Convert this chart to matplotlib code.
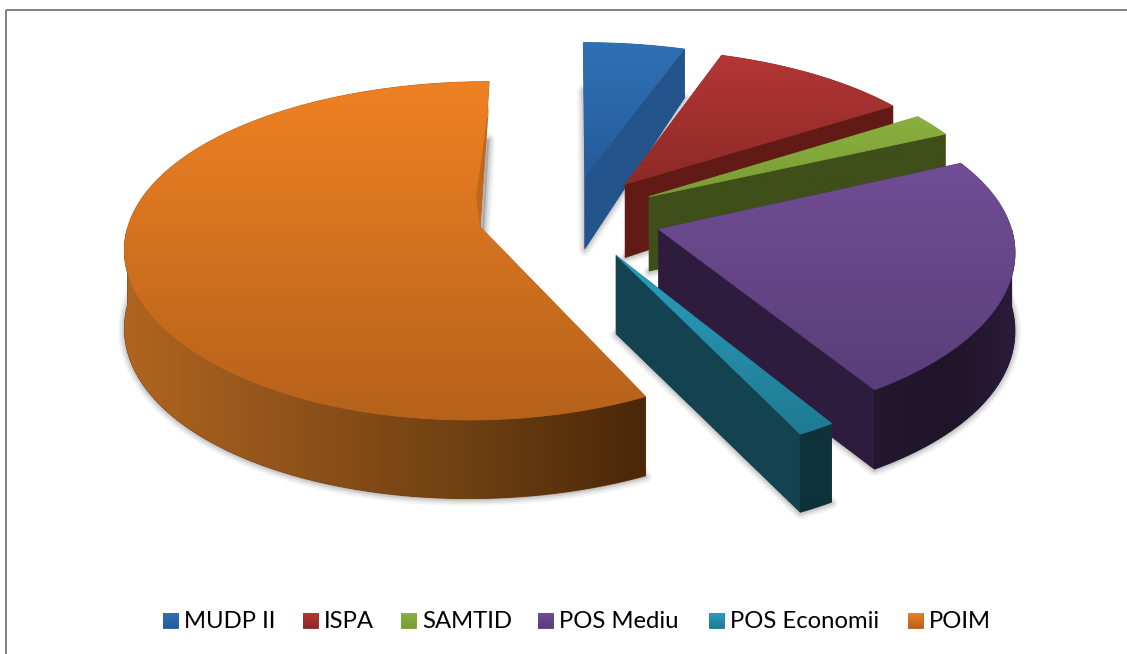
import numpy as np
import matplotlib
matplotlib.use('Agg')
import matplotlib.pyplot as plt
from matplotlib.colors import LinearSegmentedColormap
from matplotlib.patches import Polygon, Rectangle

#Data (share of each programme, %)
labels = ['MUDP II', 'ISPA', 'SAMTID', 'POS Mediu', 'POS Economii', 'POIM']
values = [5.3, 10.5, 2.3, 23.0, 1.5, 57.4]

#Colours: top face (back, front), radial wall, outer wall (left to right)
top_colors = [('#3070B6', '#255C9A'), ('#B43636', '#8C2A26'), ('#8AB03E', '#7A9C36'),
              ('#714D95', '#593D79'), ('#2B9EBE', '#1F7A92'), ('#EF8123', '#B5621B')]
wall_colors = ['#24548C', '#611A15', '#3F4F19', '#2E1C3E', '#134250', '#6B3A10']
rim_colors = [('#24548C', '#24548C'), ('#611A15', '#611A15'), ('#3F4F19', '#3F4F19'),
              ('#241830', '#1F1429', '#2A1B39'), ('#0F313B', '#0F313B'),
              ('#B0651F', '#8F5219', '#6E3F12', '#4A2708')]
legend_x = [163, 303, 401, 538, 709, 908]

#Projection of the pie, in pixels
cx, cy = 570, 217
R = 350
Rb = 163
kx = 0.11
ky = 0.14
explode = 0.262


def proj(u, v):
    return cx + R * u / (1 + kx * v), cy - Rb * v / (1 + ky * v)


def depth(v):
    return 76 - 12 * v - 9 * v ** 2


fig = plt.figure(figsize=(11.27, 6.54), dpi=100)
ax = fig.add_axes([0, 0, 1, 1])
z = [2]


def fill_grad(pts, colors, horizontal=False):
    #Polygon filled with a linear gradient
    pts = np.array(pts)
    z[0] += 1
    cmap = LinearSegmentedColormap.from_list('g', colors)
    patch = Polygon(pts, closed=True, fc=colors[len(colors) // 2], ec=colors[len(colors) // 2],
                    lw=0.6, zorder=z[0])
    ax.add_patch(patch)
    g = np.linspace(0, 1, 256)
    g = g[None, :] if horizontal else g[:, None]
    z[0] += 1
    im = ax.imshow(g, cmap=cmap, aspect='auto', zorder=z[0], vmin=0, vmax=1,
                   extent=[pts[:, 0].min(), pts[:, 0].max(), pts[:, 1].max(), pts[:, 1].min()])
    im.set_clip_path(patch)


def points(u0, v0, angles):
    a = np.radians(angles)
    uu = u0 + np.sin(a)
    vv = v0 + np.cos(a)
    x, y = proj(uu, vv)
    return x, y, y + depth(vv)


edges = np.concatenate([[0], np.cumsum(values)]) / np.sum(values) * 360

#Soft shadow of every slice footprint goes under everything
slices = []
for i in range(len(values)):
    a0, a1 = edges[i], edges[i + 1]
    mid = np.radians((a0 + a1) / 2)
    u0, v0 = explode * np.sin(mid), explode * np.cos(mid)
    ax_, ay_ = proj(u0, v0)
    d0 = depth(v0)
    ang = np.linspace(a0, a1, 120)
    x, y, yb = points(u0, v0, ang)
    slices.append((a0, a1, u0, v0, ax_, ay_, d0, ang, x, y, yb))
    base = np.column_stack([np.r_[ax_, x], np.r_[ay_ + d0, yb]])
    for lw, al in [(9, 0.05), (6, 0.08), (3, 0.12)]:
        ax.add_patch(Polygon(base + [0, 1], closed=True, fc='#303030', ec='#303030', lw=lw,
                             alpha=al, zorder=1, joinstyle='round'))

for i in range(len(values)):
    a0, a1, u0, v0, ax_, ay_, d0, ang, x, y, yb = slices[i]
    #End wall, only for the slices on the right side
    if i < 5:
        fill_grad([(ax_, ay_), (x[-1], y[-1]), (x[-1], yb[-1]), (ax_, ay_ + d0)],
                  [wall_colors[i], wall_colors[i]])
    #Outer wall where the rim faces the viewer
    mask = (ang >= 90) & (ang <= 270)
    if mask.sum() > 1:
        xs, ys, ybs = x[mask], y[mask], yb[mask]
        fill_grad(np.column_stack([np.r_[xs, xs[::-1]], np.r_[ys, ybs[::-1]]]),
                  list(rim_colors[i]), horizontal=True)
    #Top face
    fill_grad(np.column_stack([np.r_[ax_, x], np.r_[ay_, y]]), top_colors[i])

#Dark sliver along the start edge of the big slice
a0, a1, u0, v0, ax_, ay_, d0, ang, x, y, yb = slices[5]
z[0] += 2
ax.add_patch(Polygon([(x[-1], y[-1] + 22), (ax_, ay_), (ax_ - 4, ay_ - 30)], closed=True,
                     fc='#BF661B', ec='none', zorder=z[0]))

#Legend
for i, lab in enumerate(labels):
    sq = [(legend_x[i], 613), (legend_x[i] + 15, 613), (legend_x[i] + 15, 628), (legend_x[i], 628)]
    fill_grad(sq, top_colors[i])
    ax.text(legend_x[i] + 21, 621.5, lab, fontsize=17.2, family='Lato', color='black',
            va='center', ha='left', zorder=z[0] + 1)

#Chart frame, the right and bottom sides are cut off by the picture
ax.add_patch(Rectangle((5.5, 10), 1300, 800, fc='none', ec='#808080', lw=1.4, zorder=1))

ax.set_xlim(0, 1127)
ax.set_ylim(654, 0)
ax.axis('off')
fig.savefig('out.png', dpi=100)
